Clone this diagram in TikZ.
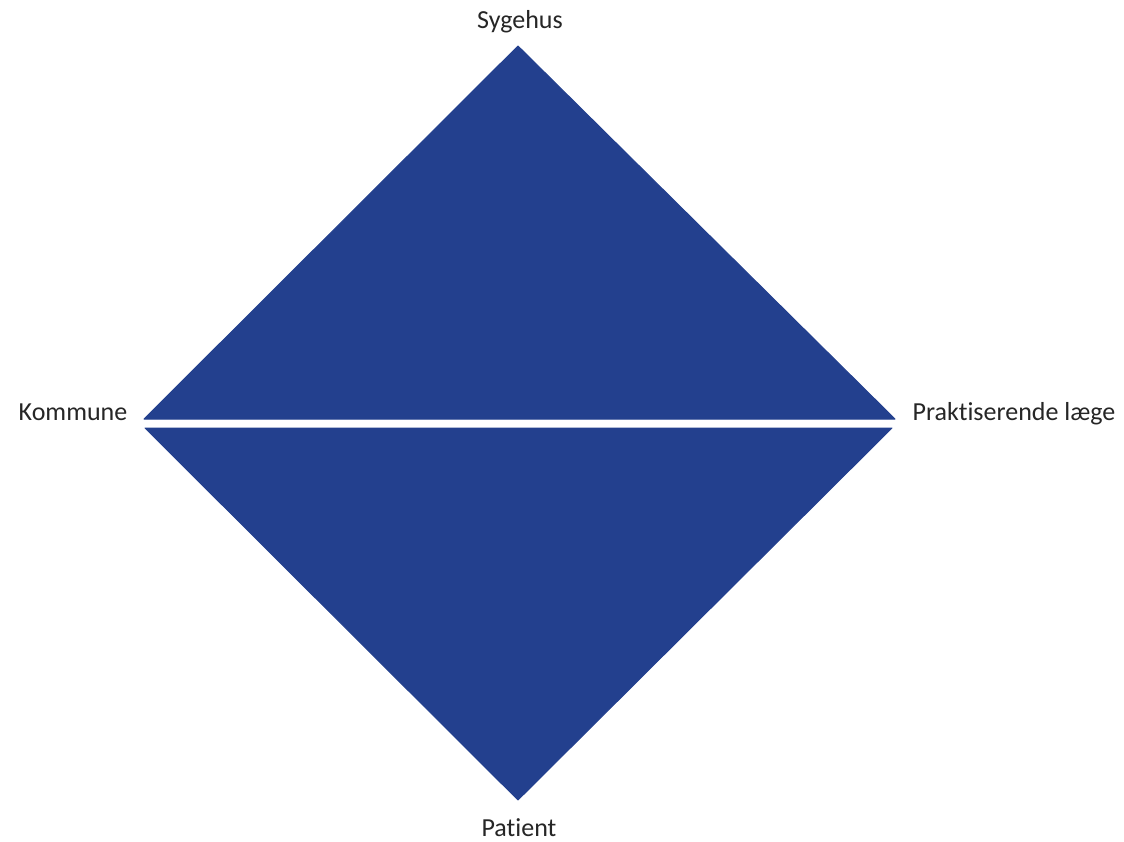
\documentclass[tikz,border=0pt]{standalone}
\usepackage{fontspec}
\setmainfont[Ligatures=NoCommon]{Carlito}
\definecolor{diablue}{RGB}{35,64,142}
\definecolor{labelgray}{RGB}{38,38,38}
\begin{document}
\begin{tikzpicture}[x=1pt,y=-1pt,
  tri/.style={fill=diablue,draw=diablue,line width=1pt,line join=round},
  lbl/.style={anchor=base,inner sep=0pt,text=labelgray,font=\fontsize{26}{30}\selectfont}]
\useasboundingbox (0,0) rectangle (1124,842);
\fill[white] (0,0) rectangle (1124,842);
% top triangle
\coordinate (tapex) at (518,46);
\coordinate (tl) at (144,419);
\coordinate (tr) at (895,419);
\filldraw[tri] (tl) -- (tapex) -- (tr) -- cycle;
% bottom triangle
\coordinate (bapex) at (518,800);
\coordinate (bl) at (145,428);
\coordinate (br) at (892,428);
\filldraw[tri] (bl) -- (br) -- (bapex) -- cycle;
% labels
\node[lbl] (syg) at (520,29) {Sygehus};
\node[lbl] (kom) at (73,420) {Kommune};
\node[lbl] (prak) at (1014,420) {Praktiserende læge};
\node[lbl] (pat) at (519,836) {Patient};
\end{tikzpicture}
\end{document}
